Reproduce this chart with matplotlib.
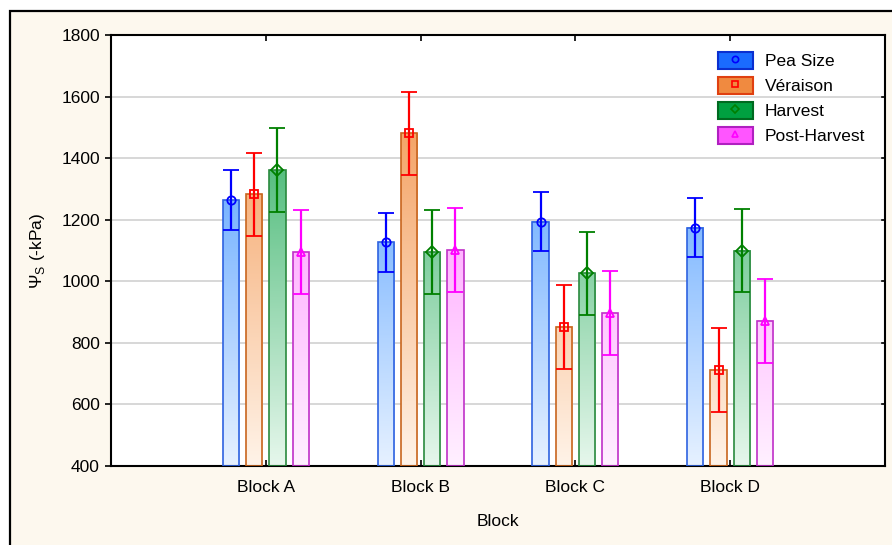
import numpy as np
import matplotlib
matplotlib.use("Agg")
import matplotlib.pyplot as plt
from matplotlib.colors import LinearSegmentedColormap
from matplotlib.patches import Rectangle, Patch
from matplotlib.lines import Line2D

plt.rcParams["font.family"] = ["Liberation Sans", "DejaVu Sans"]

blocks = ["Block A", "Block B", "Block C", "Block D"]
stages = ["Pea Size", "Véraison", "Harvest", "Post-Harvest"]

pea_size = [1264, 1127, 1194, 1174]
veraison = [1283, 1481, 852, 712]
harvest = [1361, 1095, 1026, 1100]
post_harvest = [1095, 1101, 896, 871]

pea_size_err = [96, 96, 95, 95]
veraison_err = [135, 135, 136, 136]
harvest_err = [136, 136, 135, 136]
post_harvest_err = [136, 136, 136, 136]

series = [pea_size, veraison, harvest, post_harvest]
errors = [pea_size_err, veraison_err, harvest_err, post_harvest_err]

# (light, dark) gradient, bar edge, error colour, marker, legend face, legend edge
styles = [
    (("#e6f1ff", "#55a0ff"), "#2e62e0", "#0000ff", "o", "#1a6bff", "#0a2fd0"),
    (("#fff3e8", "#f4a060"), "#c8651e", "#ff0000", "s", "#f08a40", "#e04010"),
    (("#e6f7ec", "#3cb46c"), "#2a8a3e", "#008000", "D", "#00a040", "#006a20"),
    (("#fff0ff", "#ff90ff"), "#c030c8", "#ff00ff", "^", "#ff55ff", "#b020c0"),
]

fs = 12.5

fig = plt.figure(figsize=(8.92, 5.45), dpi=100)
fig.patch.set_facecolor("white")
fig.add_artist(Rectangle((10 / 892, -0.05), 1.0, 1 - 11 / 545 + 0.05,
                         transform=fig.transFigure, facecolor="#fdf8ee",
                         edgecolor="black", linewidth=1.6, zorder=-10))

ax = fig.add_axes([111 / 892, 1 - 466 / 545, 774 / 892, 431 / 545])
ax.set_facecolor("white")

x = np.arange(len(blocks))
offsets = [-0.225, -0.075, 0.075, 0.225]
width = 0.105
ymin, ymax = 400, 1800

for vals, errs, off, st in zip(series, errors, offsets, styles):
    (light, dark), edge, ecol, mk, _, _ = st
    cmap = LinearSegmentedColormap.from_list("g", [light, dark])
    for xi, v, e in zip(x, vals, errs):
        x0 = xi + off - width / 2
        grad = np.linspace(ymin, v, 200).reshape(-1, 1)
        ax.imshow(grad, extent=[x0, x0 + width, ymin, v], origin="lower",
                  cmap=cmap, vmin=ymin, vmax=1550, aspect="auto", zorder=2)
        ax.add_patch(Rectangle((x0, ymin), width, v - ymin, facecolor="none",
                               edgecolor=edge, linewidth=1.2, zorder=3))
    ax.errorbar(x + off, vals, yerr=errs, fmt=mk, color=ecol, mfc="none",
                mec=ecol, ms=6, mew=1.3, elinewidth=1.6, capsize=5.5,
                capthick=1.6, zorder=4)

ax.set_xlim(-1, 4)
ax.set_ylim(ymin, ymax)
ax.set_xticks(x)
ax.set_xticklabels(blocks)
ax.set_yticks(np.arange(400, 1801, 200))
ax.yaxis.grid(True, color="#d4d4d4", linewidth=1.3, zorder=0)
ax.set_axisbelow(True)
ax.tick_params(axis="x", direction="in", top=True, length=4, width=1.2,
               labelsize=fs, pad=10)
ax.tick_params(axis="y", which="both", left=True, right=False, direction="out",
               length=4, width=1.2, labelsize=fs, pad=4)
for yt in np.arange(600, 1800, 200):
    ax.plot([4 - 0.02, 4], [yt, yt], color="black", lw=1.2, zorder=5,
            clip_on=False)
for s in ax.spines.values():
    s.set_linewidth(1.5)
    s.set_color("black")

ax.set_xlabel("Block", fontsize=fs, labelpad=14)
ax.set_ylabel("Ψ$_\\mathregular{S}$ (-kPa)", fontsize=fs, labelpad=10)

handles = []
for st in styles:
    _, _, ecol, mk, face, ledge = st
    handles.append((Patch(facecolor=face, edgecolor=ledge, linewidth=1.5),
                    Line2D([], [], marker=mk, color=ecol, mfc="none",
                           linestyle="none", ms=4.5, mew=1.2)))
ax.legend(handles, stages, loc="upper left",
          bbox_to_anchor=((718 - 111) / 774, (466 - 52) / 431),
          borderpad=0, borderaxespad=0, frameon=False, fontsize=fs,
          handlelength=2.0, handleheight=1.1, labelspacing=0.45,
          handletextpad=0.7)

fig.savefig("out.png", dpi=100)
plt.close(fig)
